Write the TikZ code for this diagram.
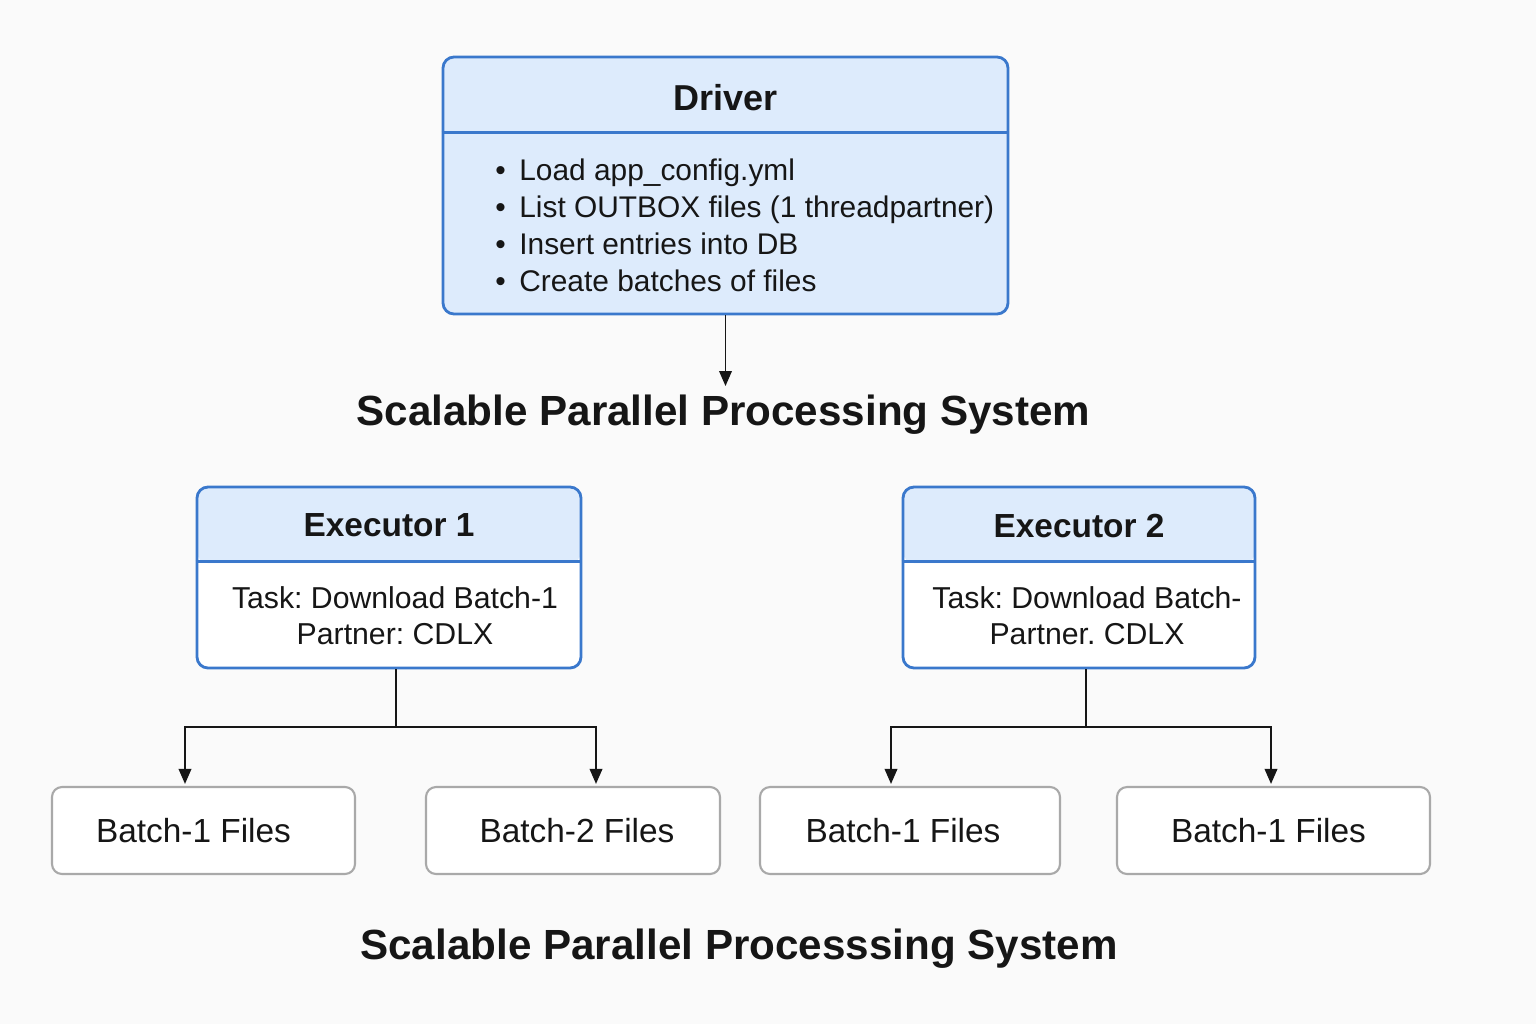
\documentclass[tikz,border=0pt]{standalone}
\usepackage{fontspec}
\setmainfont{Liberation Sans}
\usetikzlibrary{arrows.meta}

\definecolor{boxblue}{HTML}{3A78CC}
\definecolor{headblue}{HTML}{DDEBFC}
\definecolor{batchgray}{HTML}{A9A9A9}
\definecolor{bgcol}{HTML}{FAFAFA}
\definecolor{ink}{HTML}{161616}

\newcommand{\itm}{\makebox[0.48cm][l]{\textbullet}}
\frenchspacing

\begin{document}
\begin{tikzpicture}[
  bluebox/.style={draw=boxblue,line width=1.6pt,rounded corners=0.22cm,inner sep=0pt},
  drvbox/.style={bluebox,fill=headblue},
  exbox/.style={bluebox,fill=white,minimum height=3.62cm,
    path picture={\fill[headblue] (path picture bounding box.north west)
      rectangle ([yshift=-1.52cm]path picture bounding box.north east);}},
  batchbox/.style={draw=batchgray,line width=1.2pt,rounded corners=0.2cm,fill=white,
    minimum height=1.74cm,font=\fontsize{19}{22}\selectfont,text=ink},
  headtxt/.style={font=\fontsize{19}{22}\selectfont\bfseries,text=ink},
  bodytxt/.style={font=\fontsize{17.2}{20.5}\selectfont,text=ink,inner sep=0pt},
  titletxt/.style={font=\fontsize{24}{28}\selectfont\bfseries,text=ink},
  line/.style={draw=ink,line width=1.1pt},
  arr/.style={line,-{Triangle[length=0.3cm,width=0.25cm]}}]

  \fill[bgcol] (0,0) rectangle (30.72,-20.48);

  % driver
  \node[drvbox,minimum width=11.3cm,minimum height=5.14cm] (drv) at (14.51,-3.71) {};
  \node[headtxt,font=\fontsize{20.5}{24}\selectfont\bfseries] (drvhead) at ([yshift=-0.84cm]drv.north) {Driver};
  \draw[bluebox] ([yshift=-1.54cm]drv.north west) -- ([yshift=-1.54cm]drv.north east);
  \node[bodytxt,anchor=west,align=left,font=\fontsize{17}{21}\selectfont] (drvlist) at (9.9,-4.51)
    {\itm Load app\_config.yml\\
     \itm List OUTBOX files (1 threadpartner)\\
     \itm Insert entries into DB\\
     \itm Create batches of files};

  \node[titletxt] (t1) at (14.47,-8.3) {Scalable Parallel Processing System};
  \draw[arr] (drv.south) -- ([yshift=0.06cm]drv.south |- t1.north);

  % executors
  \node[exbox,minimum width=7.68cm] (ex1) at (7.78,-11.55) {};
  \node[exbox,minimum width=7.04cm] (ex2) at (21.58,-11.55) {};
  \foreach \e/\name in {ex1/Executor 1,ex2/Executor 2} {
    \node[headtxt] at ([yshift=-0.8cm]\e.north) {\name};
    \draw[bluebox] ([yshift=-1.52cm]\e.north west) -- ([yshift=-1.52cm]\e.north east);
  }
  \node[bodytxt,align=center] (ex1txt) at ([xshift=0.12cm,yshift=-2.6cm]ex1.north)
    {Task: Download Batch-1\\Partner: CDLX};
  \node[bodytxt,align=center] (ex2txt) at ([xshift=0.16cm,yshift=-2.6cm]ex2.north)
    {Task: Download Batch-\\Partner. CDLX};

  % batches
  \node[batchbox,minimum width=6.06cm] (b1) at (4.07,-16.61) {Batch-1 Files\hspace*{0.4cm}};
  \node[batchbox,minimum width=5.88cm] (b2) at (11.46,-16.61) {\hspace*{0.16cm}Batch-2 Files};
  \node[batchbox,minimum width=6.0cm] (b3) at (18.2,-16.61) {Batch-1 Files\hspace*{0.28cm}};
  \node[batchbox,minimum width=6.26cm] (b4) at (25.47,-16.61) {Batch-1 Files\hspace*{0.2cm}};

  \draw[line] ([xshift=0.14cm]ex1.south) -- ++(0,-1.16) coordinate (j1);
  \draw[arr] (j1) -| ([xshift=-0.37cm,yshift=0.04cm]b1.north);
  \draw[arr] (j1) -| ([xshift=0.46cm,yshift=0.04cm]b2.north);
  \draw[line] ([xshift=0.14cm]ex2.south) -- ++(0,-1.16) coordinate (j2);
  \draw[arr] (j2) -| ([xshift=-0.38cm,yshift=0.04cm]b3.north);
  \draw[arr] (j2) -| ([xshift=-0.05cm,yshift=0.04cm]b4.north);

  \node[titletxt] (t2) at (14.78,-18.98) {Scalable Parallel Processsing System};

\end{tikzpicture}
\end{document}
